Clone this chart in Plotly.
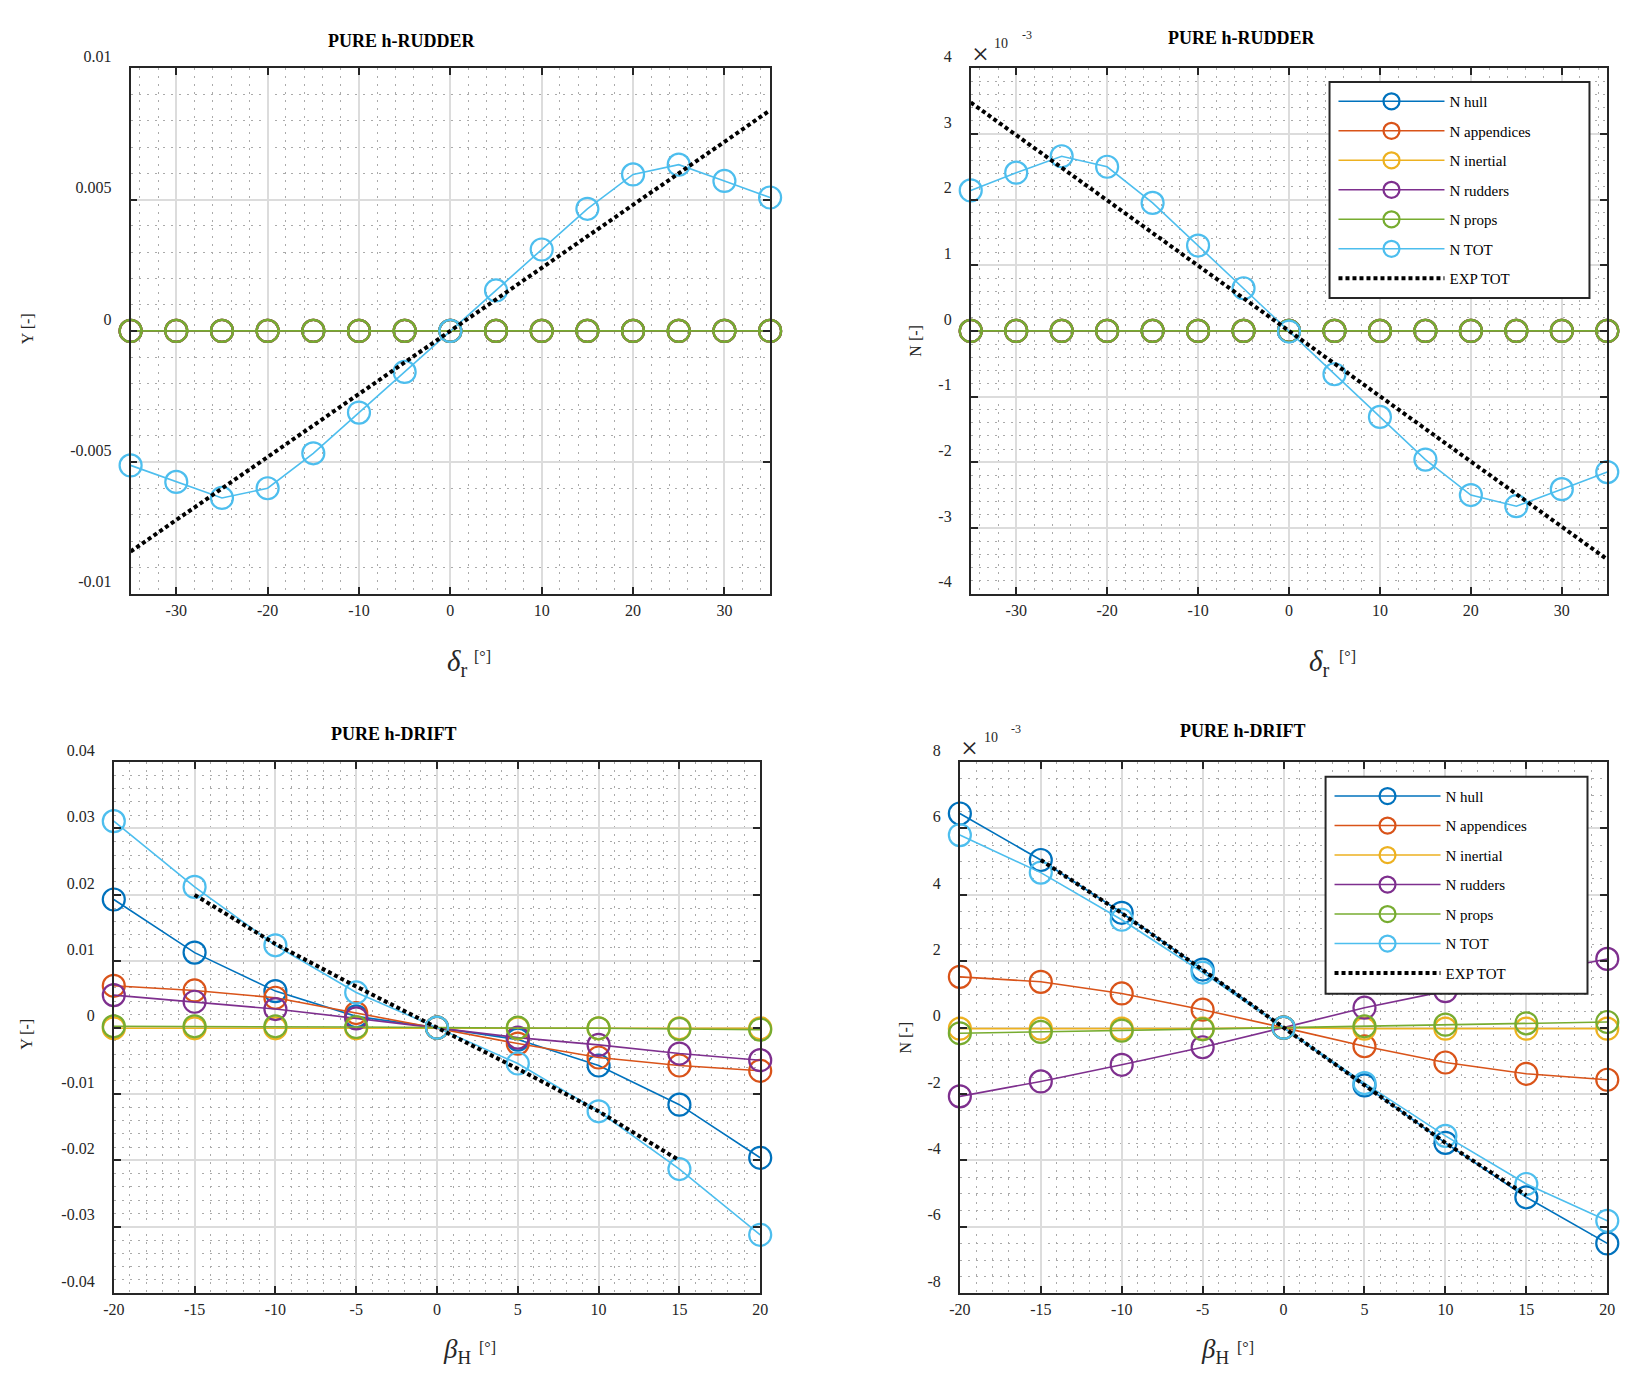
import plotly.graph_objects as go

# ---------------- data ----------------
delta_r = [-35, -30, -25, -20, -15, -10, -5, 0, 5, 10, 15, 20, 25, 30, 35]
beta_h = [-20, -15, -10, -5, 0, 5, 10, 15, 20]

# PURE h-RUDDER, Y [-]
y_rud_hull = [0.0, 0.0, 0.0, 0.0, 0.0, 0.0, 0.0, 0.0, 0.0, 0.0, 0.0, 0.0, 0.0, 0.0, 0.0]
y_rud_app = [0.0, 0.0, 0.0, 0.0, 0.0, 0.0, 0.0, 0.0, 0.0, 0.0, 0.0, 0.0, 0.0, 0.0, 0.0]
y_rud_inertial = [0.0, 0.0, 0.0, 0.0, 0.0, 0.0, 0.0, 0.0, 0.0, 0.0, 0.0, 0.0, 0.0, 0.0, 0.0]
y_rud_rudders = [0.0, 0.0, 0.0, 0.0, 0.0, 0.0, 0.0, 0.0, 0.0, 0.0, 0.0, 0.0, 0.0, 0.0, 0.0]
y_rud_props = [0.0, 0.0, 0.0, 0.0, 0.0, 0.0, 0.0, 0.0, 0.0, 0.0, 0.0, 0.0, 0.0, 0.0, 0.0]
y_rud_tot = [-0.00512, -0.00575, -0.00636, -0.00599, -0.00466, -0.00311, -0.00156, 0.0,
             0.00154, 0.00310, 0.00465, 0.00596, 0.00633, 0.00571, 0.00508]
y_rud_exp_x = [-35, 35]
y_rud_exp = [-0.0084, 0.0084]

# PURE h-RUDDER, N [-] (values x 1e-3)
n_rud_hull = [0.0, 0.0, 0.0, 0.0, 0.0, 0.0, 0.0, 0.0, 0.0, 0.0, 0.0, 0.0, 0.0, 0.0, 0.0]
n_rud_app = [0.0, 0.0, 0.0, 0.0, 0.0, 0.0, 0.0, 0.0, 0.0, 0.0, 0.0, 0.0, 0.0, 0.0, 0.0]
n_rud_inertial = [0.0, 0.0, 0.0, 0.0, 0.0, 0.0, 0.0, 0.0, 0.0, 0.0, 0.0, 0.0, 0.0, 0.0, 0.0]
n_rud_rudders = [0.0, 0.0, 0.0, 0.0, 0.0, 0.0, 0.0, 0.0, 0.0, 0.0, 0.0, 0.0, 0.0, 0.0, 0.0]
n_rud_props = [0.0, 0.0, 0.0, 0.0, 0.0, 0.0, 0.0, 0.0, 0.0, 0.0, 0.0, 0.0, 0.0, 0.0, 0.0]
n_rud_tot = [2.14, 2.41, 2.66, 2.50, 1.95, 1.30, 0.65, -0.01, -0.66, -1.31, -1.96, -2.50, -2.67, -2.41, -2.15]
n_rud_exp_x = [-35, 35]
n_rud_exp = [3.48, -3.48]

# PURE h-DRIFT, Y [-]
y_dr_hull = [0.0193, 0.0113, 0.0055, 0.0017, 0.0, -0.0018, -0.0057, -0.0116, -0.0196]
y_dr_app = [0.0063, 0.0056, 0.0045, 0.0022, 0.0, -0.0024, -0.0045, -0.0057, -0.0065]
y_dr_inertial = [-0.0001, -0.0001, -0.0001, -0.0001, 0.0, -0.0001, -0.0001, -0.0001, -0.0001]
y_dr_rudders = [0.0049, 0.0039, 0.0028, 0.0014, 0.0, -0.0015, -0.0026, -0.0039, -0.0049]
y_dr_props = [0.0002, 0.0002, 0.0002, 0.0001, 0.0, 0.0, -0.0001, -0.0002, -0.0003]
y_dr_tot = [0.0311, 0.0212, 0.0124, 0.0053, 0.0, -0.0054, -0.0126, -0.0213, -0.0312]
y_dr_exp_x = [-15, -10, -5, 0, 5, 10, 15]
y_dr_exp = [0.0200, 0.0126, 0.0062, 0.0, -0.0062, -0.0126, -0.0200]

# PURE h-DRIFT, N [-] (values x 1e-3)
n_dr_hull = [6.45, 5.05, 3.46, 1.75, 0.0, -1.74, -3.47, -5.11, -6.50]
n_dr_app = [1.53, 1.38, 1.03, 0.54, 0.0, -0.56, -1.05, -1.39, -1.57]
n_dr_inertial = [-0.03, -0.03, -0.03, -0.03, 0.0, -0.03, -0.03, -0.03, -0.03]
n_dr_rudders = [-2.07, -1.62, -1.12, -0.59, 0.0, 0.60, 1.10, 1.60, 2.07]
n_dr_props = [-0.17, -0.13, -0.09, -0.05, 0.0, 0.04, 0.09, 0.13, 0.17]
n_dr_tot = [5.80, 4.67, 3.25, 1.66, 0.0, -1.67, -3.26, -4.71, -5.82]
n_dr_exp_x = [-15, -10, -5, 0, 5, 10, 15]
n_dr_exp = [5.05, 3.45, 1.74, 0.0, -1.74, -3.47, -5.05]

series_names = ["N hull", "N appendices", "N inertial", "N rudders", "N props", "N TOT"]
exp_name = "EXP TOT"

# tick labels
rud_x_ticks = [-30, -20, -10, 0, 10, 20, 30]
rud_x_text = ["-30", "-20", "-10", "0", "10", "20", "30"]
drift_x_ticks = [-20, -15, -10, -5, 0, 5, 10, 15, 20]
drift_x_text = ["-20", "-15", "-10", "-5", "0", "5", "10", "15", "20"]
y_rud_ticks = [-0.01, -0.005, 0, 0.005, 0.01]
y_rud_text = ["-0.01", "-0.005", "0", "0.005", "0.01"]
n_rud_ticks = [-4, -3, -2, -1, 0, 1, 2, 3, 4]
n_rud_text = ["-4", "-3", "-2", "-1", "0", "1", "2", "3", "4"]
y_dr_ticks = [-0.04, -0.03, -0.02, -0.01, 0, 0.01, 0.02, 0.03, 0.04]
y_dr_text = ["-0.04", "-0.03", "-0.02", "-0.01", "0", "0.01", "0.02", "0.03", "0.04"]
n_dr_ticks = [-8, -6, -4, -2, 0, 2, 4, 6, 8]
n_dr_text = ["-8", "-6", "-4", "-2", "0", "2", "4", "6", "8"]

# ---------------- style ----------------
W, H = 1638, 1376
COLORS = ["#0072BD", "#D95319", "#EDB120", "#7E2F8E", "#77AC30", "#4DBEEE"]
FONT = "Liberation Serif"
AXC = "#262626"


def px_x(x):
    return x / W


def px_y(y):
    return 1 - y / H


fig = go.Figure()

panels = [
    ("x", "y", delta_r, [y_rud_hull, y_rud_app, y_rud_inertial, y_rud_rudders, y_rud_props, y_rud_tot],
     y_rud_exp_x, y_rud_exp, None),
    ("x2", "y2", delta_r, [n_rud_hull, n_rud_app, n_rud_inertial, n_rud_rudders, n_rud_props, n_rud_tot],
     n_rud_exp_x, n_rud_exp, "legend"),
    ("x3", "y3", beta_h, [y_dr_hull, y_dr_app, y_dr_inertial, y_dr_rudders, y_dr_props, y_dr_tot],
     y_dr_exp_x, y_dr_exp, None),
    ("x4", "y4", beta_h, [n_dr_hull, n_dr_app, n_dr_inertial, n_dr_rudders, n_dr_props, n_dr_tot],
     n_dr_exp_x, n_dr_exp, "legend2"),
]

for pi, (xa, ya, xs, series, ex, ey, leg) in enumerate(panels):
    for si, (name, vals) in enumerate(zip(series_names, series)):
        kw = dict(showlegend=False)
        if leg:
            kw = dict(showlegend=True, legend=leg, legendgroup=f"{leg}_{si}")
        fig.add_trace(go.Scatter(
            x=xs, y=vals, name=name, mode="lines+markers", xaxis=xa, yaxis=ya,
            line=dict(color=COLORS[si], width=1.6),
            marker=dict(symbol="circle-open", size=22, color=COLORS[si], line=dict(width=2.2)),
            cliponaxis=False, **kw))
    kw = dict(showlegend=False)
    if leg:
        kw = dict(showlegend=True, legend=leg, legendgroup=f"{leg}_exp")
    fig.add_trace(go.Scatter(
        x=ex, y=ey, name=exp_name, mode="lines", xaxis=xa, yaxis=ya,
        line=dict(color="black", width=4, dash="4px,3px"), cliponaxis=False, **kw))


def axis_base():
    return dict(
        showline=True, linecolor=AXC, linewidth=1.8, mirror="allticks",
        ticks="inside", ticklen=7, tickwidth=1.5, tickcolor=AXC,
        showgrid=True, gridcolor="#dcdcdc", gridwidth=1.5, zeroline=False,
        tickfont=dict(family=FONT, size=16, color=AXC), tickmode="array",
    )


def minor(d):
    return dict(dtick=d, tick0=0, showgrid=True, gridcolor="#aaaaaa", griddash="2px,6px",
                gridwidth=1, ticks="")


doms = {
    "TL": ([121, 768], [49, 582]),
    "TR": ([971, 1615], [49, 582]),
    "BL": ([104, 758], [753, 1292]),
    "BR": ([960, 1615], [753, 1292]),
}


def xdom(k):
    a, b = doms[k][0]
    return [px_x(a), px_x(b)]


def ydom(k):
    a, b = doms[k][1]
    return [px_y(b), px_y(a)]


layout = dict(
    width=W, height=H, margin=dict(l=0, r=0, t=0, b=0),
    paper_bgcolor="white", plot_bgcolor="white",
    font=dict(family=FONT, size=15, color=AXC),
)

specs = [
    ("xaxis", "yaxis", "TL", [-35, 35], rud_x_ticks, rud_x_text, 2, [-0.01, 0.01], y_rud_ticks, y_rud_text, 0.001, "x", "y"),
    ("xaxis2", "yaxis2", "TR", [-35, 35], rud_x_ticks, rud_x_text, 2, [-4, 4], n_rud_ticks, n_rud_text, 0.2, "x2", "y2"),
    ("xaxis3", "yaxis3", "BL", [-20, 20], drift_x_ticks, drift_x_text, 1, [-0.04, 0.04], y_dr_ticks, y_dr_text, 0.002, "x3", "y3"),
    ("xaxis4", "yaxis4", "BR", [-20, 20], drift_x_ticks, drift_x_text, 1, [-8, 8], n_dr_ticks, n_dr_text, 0.5, "x4", "y4"),
]
for xk, yk, dk, xr, xt, xtt, xm, yr, yt, ytt, ym, xid, yid in specs:
    xa = axis_base()
    xa.update(domain=xdom(dk), range=xr, tickvals=xt, ticktext=xtt, anchor=yid,
              minor=minor(xm), ticklabelstandoff=1)
    ya = axis_base()
    ya.update(domain=ydom(dk), range=yr, tickvals=yt, ticktext=ytt, anchor=xid,
              minor=minor(ym), ticklabelposition="outside top", ticklabelstandoff=14)
    layout[xk] = xa
    layout[yk] = ya

leg_common = dict(
    bgcolor="rgba(0,0,0,0)", borderwidth=0, font=dict(family=FONT, size=15, color="black"),
    itemwidth=106, tracegroupgap=7, xanchor="left", yanchor="top", traceorder="grouped",
    itemclick=False, itemdoubleclick=False,
)
layout["legend"] = dict(leg_common, x=px_x(1338), y=px_y(66))
layout["legend2"] = dict(leg_common, x=px_x(1334), y=px_y(771))

fig.update_layout(**layout)

# legend boxes (white, drawn over data, under the legend)
for (x0, y0, x1, y1) in [(1334, 63, 1597, 282), (1330, 768, 1595, 988)]:
    fig.add_shape(type="rect", xref="paper", yref="paper", x0=px_x(x0), x1=px_x(x1),
                  y0=px_y(y1), y1=px_y(y0), fillcolor="white",
                  line=dict(color=AXC, width=2), layer="above")

ann = []


def text(x, y, t, size, angle=0, color="black"):
    ann.append(dict(x=px_x(x), y=px_y(y), xref="paper", yref="paper", text=t, showarrow=False,
                    font=dict(family=FONT, size=size, color=color), textangle=angle,
                    xanchor="center", yanchor="middle"))


# titles
text(396, 21, "<b>PURE h-RUDDER</b>", 18)
text(1245, 18, "<b>PURE h-RUDDER</b>", 18)
text(388, 725, "<b>PURE h-DRIFT</b>", 18)
text(1246, 721, "<b>PURE h-DRIFT</b>", 18)
# y titles
text(17, 313, "Y [-]", 16, -90, AXC)
text(915, 325, "N [-]", 16, -90, AXC)
text(15, 1029, "Y [-]", 16, -90, AXC)
text(905, 1033, "N [-]", 16, -90, AXC)
# x titles
text(451, 652, "<i>δ</i><sub>r</sub>", 29, 0, AXC)
text(477, 646, "[°]", 16, 0, AXC)
text(1323, 652, "<i>δ</i><sub>r</sub>", 29, 0, AXC)
text(1352, 646, "[°]", 16, 0, AXC)
text(451, 1351, "<i>β</i><sub>H</sub>", 27, 0, AXC)
text(482, 1347, "[°]", 16, 0, AXC)
text(1218, 1351, "<i>β</i><sub>H</sub>", 27, 0, AXC)
text(1249, 1347, "[°]", 16, 0, AXC)
# exponent markers
for dx, dy in [(0, 0), (-11, 704)]:
    text(981 + dx, 34 + dy, "×", 30, 0, AXC)
    text(1002 + dx, 24 + dy, "10", 14, 0, AXC)
    text(1028 + dx, 15 + dy, "-3", 12, 0, AXC)

fig.update_layout(annotations=ann)

fig.write_html("out.html", config={"displayModeBar": False},
               post_script="document.body.style.margin='0px';")
